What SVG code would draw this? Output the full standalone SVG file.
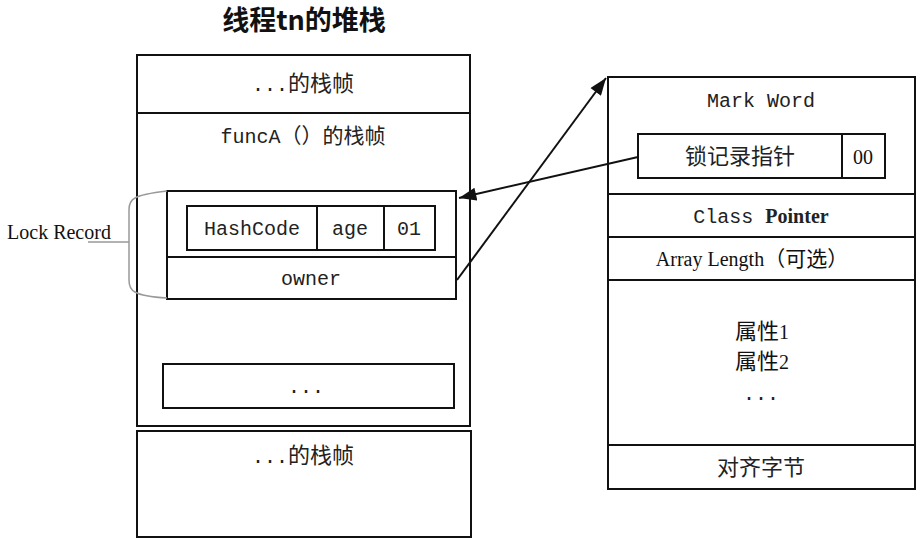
<svg xmlns="http://www.w3.org/2000/svg" width="922" height="544" viewBox="0 0 922 544">
<defs>
<style>
.box{fill:#fff;stroke:#111;stroke-width:2}
.mono{font-family:"Liberation Mono","Noto Sans CJK SC",monospace;font-size:20px;fill:#222;text-anchor:middle}
.ser{font-family:"Liberation Serif","Noto Sans CJK SC",serif;font-size:20px;fill:#111;text-anchor:middle}
.cjk{font-family:"Noto Sans CJK SC",sans-serif;font-size:22px;fill:#222;text-anchor:middle}
.conn{stroke:#111;stroke-width:2;fill:none}
</style>
<marker id="ah2" viewBox="0 0 16 12" refX="16" refY="6" markerWidth="18" markerHeight="13" markerUnits="userSpaceOnUse" orient="auto">
<path d="M0,0 L16,6 L0,12 z" fill="#111"/>
</marker>
</defs>
<rect width="922" height="544" fill="#fff"/>
<text x="304" y="30" style="font-family:'Noto Sans CJK SC',sans-serif;font-size:27px;font-weight:bold;fill:#111;text-anchor:middle">线程tn的堆栈</text>

<g id="stack">
<g id="frame-top">
<rect class="box" x="137" y="55" width="333" height="58"/>
<text x="303" y="91" class="mono"><tspan font-family="Liberation Mono">...</tspan><tspan font-family="Noto Sans CJK SC" font-size="22">的栈帧</tspan></text>
</g>
<g id="frame-funcA">
<rect class="box" x="137" y="113" width="333" height="313"/>
<text x="303" y="143" class="mono">funcA<tspan font-family="Noto Sans CJK SC" font-size="21">（）的栈帧</tspan></text>
</g>
<g id="lock-record">
<rect class="box" x="167" y="191" width="289" height="66"/>
<rect class="box" x="167" y="257" width="289" height="42"/>
<rect class="box" x="187" y="206" width="248" height="44"/>
<line class="conn" x1="317" y1="206" x2="317" y2="250"/>
<line class="conn" x1="384" y1="206" x2="384" y2="250"/>
<text x="252" y="235" class="mono">HashCode</text>
<text x="350" y="235" class="mono">age</text>
<text x="409" y="235" class="mono">01</text>
<text x="311" y="285" class="mono">owner</text>
</g>
<g id="frame-dots">
<rect class="box" x="163" y="364" width="291" height="44"/>
<text x="306" y="393" class="mono">...</text>
</g>
<g id="frame-bottom">
<rect class="box" x="137" y="431" width="334" height="106"/>
<text x="303" y="463" class="mono"><tspan font-family="Liberation Mono">...</tspan><tspan font-family="Noto Sans CJK SC" font-size="22">的栈帧</tspan></text>
</g>
</g>

<g id="lock-record-label">
<path d="M167,191 C150,193 140,195 135,198 Q129,201 129,210 L129,280 Q129,289 135,292 C140,295 150,297 167,298" fill="none" stroke="#999" stroke-width="1.5"/>
<line x1="88" y1="242" x2="129" y2="242" stroke="#999" stroke-width="1.5"/>
<text x="59" y="239" class="ser" font-size="21">Lock Record</text>
</g>

<g id="object">
<g id="mark-word">
<rect class="box" x="608" y="77" width="307" height="117"/>
<text x="761" y="107" class="mono">Mark Word</text>
<rect class="box" x="638" y="134" width="247" height="44"/>
<line class="conn" x1="842" y1="134" x2="842" y2="178"/>
<text x="740" y="164" class="cjk" font-size="23">锁记录指针</text>
<text x="863" y="164" class="ser" font-size="21">00</text>
</g>
<g id="class-pointer">
<rect class="box" x="608" y="194" width="307" height="43"/>
<text x="761" y="223" class="mono"><tspan>Class </tspan><tspan font-family="Liberation Serif" font-weight="bold" font-size="20">Pointer</tspan></text>
</g>
<g id="array-length">
<rect class="box" x="608" y="237" width="307" height="43"/>
<text x="752" y="266" class="ser">Array Length<tspan font-family="Noto Sans CJK SC" font-size="21">（可选）</tspan></text>
</g>
<g id="fields">
<rect class="box" x="608" y="280" width="307" height="165"/>
<text x="762" y="339" class="ser" font-size="21"><tspan font-family="Noto Sans CJK SC" font-size="22">属性</tspan>1</text>
<text x="762" y="369" class="ser" font-size="21"><tspan font-family="Noto Sans CJK SC" font-size="22">属性</tspan>2</text>
<text x="761" y="400" class="mono">...</text>
</g>
<g id="padding">
<rect class="box" x="608" y="445" width="307" height="44"/>
<text x="761" y="475" class="cjk">对齐字节</text>
</g>
</g>

<g id="connectors">
<line class="conn" x1="638" y1="157" x2="459" y2="198" marker-end="url(#ah2)"/>
<line class="conn" x1="457" y1="280" x2="606" y2="78" marker-end="url(#ah2)"/>
</g>
</svg>
